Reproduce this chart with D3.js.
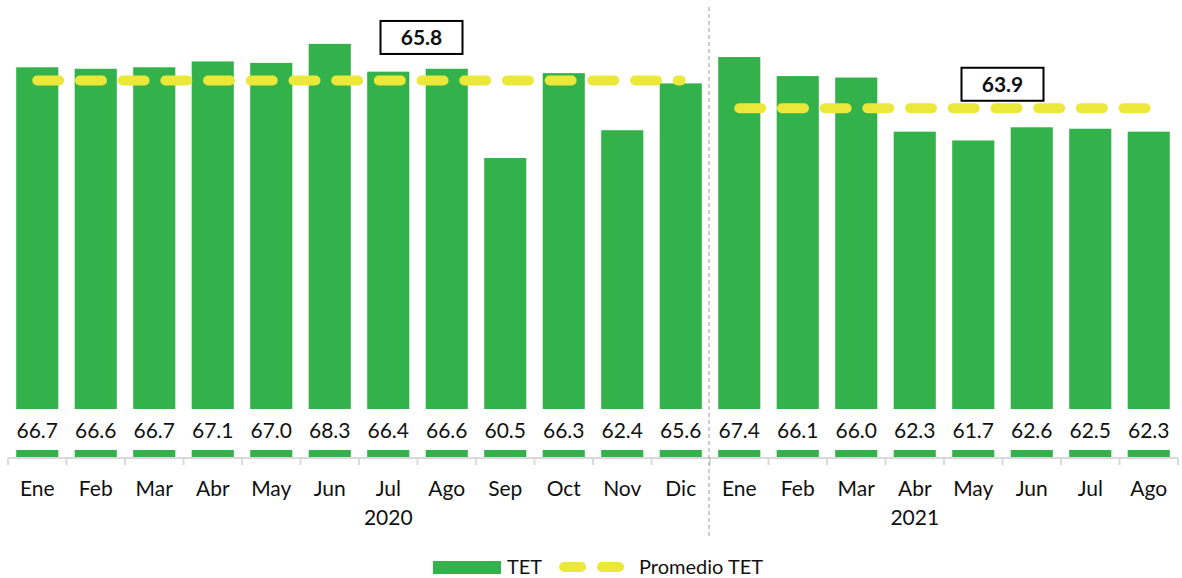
<!DOCTYPE html>
<html>
<head>
<meta charset="utf-8">
<script src="https://cdn.jsdelivr.net/npm/d3@7"></script>
<style>
  html, body { margin: 0; padding: 0; background: #fff; }
  svg { display: block; font-family: Lato, "Open Sans", sans-serif; }
</style>
</head>
<body>
<svg id="chart" width="1182" height="578"></svg>
<script>
// ---- data ----
const months = ["Ene","Feb","Mar","Abr","May","Jun","Jul","Ago","Sep","Oct","Nov","Dic",
                "Ene","Feb","Mar","Abr","May","Jun","Jul","Ago"];
const years = ["2020","2021"];
const yearOfMonth = [0,0,0,0,0,0,0,0,0,0,0,0,1,1,1,1,1,1,1,1];
const tet = [66.7,66.6,66.7,67.1,67.0,68.3,66.4,66.6,60.5,66.3,62.4,65.6,
             67.4,66.1,66.0,62.3,61.7,62.6,62.5,62.3];
const promedio = [65.8, 63.9];           // average per year
const yearLabelAt = [6, 15];             // category index under which year label sits
const boxAt = [6.5, 16.5];               // category position of average annotation box

// ---- layout ----
const W = 1182, H = 578;
const left = 8, right = 1178, axisY = 458, topY = 19;
const labelBandTop = 409, labelBandBottom = 450;
const green = "#33b24c", yellow = "#ebe83a";

const svg = d3.select("#chart");
const idx = d3.range(months.length);

const x = d3.scaleBand().domain(idx).range([left, right])
  .paddingInner(0.28).paddingOuter(0.14);
const y = d3.scaleLinear().domain([40, 70]).range([axisY, topY]);
const step = x.step();
const cx = i => x(i) + x.bandwidth() / 2;
const pos = p => left + (p + 0.5) * step; // fractional category position -> px

// bars
svg.append("g").selectAll("rect").data(idx).join("rect")
  .attr("x", i => x(i))
  .attr("y", i => y(tet[i]))
  .attr("width", x.bandwidth())
  .attr("height", i => y(40) - y(tet[i]) - 1)
  .attr("fill", green);

// white label bands (data labels inside base)
svg.append("g").selectAll("rect").data(idx).join("rect")
  .attr("x", i => x(i) - 2)
  .attr("y", labelBandTop)
  .attr("width", x.bandwidth() + 4)
  .attr("height", labelBandBottom - labelBandTop)
  .attr("fill", "#fff");

svg.append("g").selectAll("text").data(idx).join("text")
  .attr("x", cx)
  .attr("y", 438)
  .attr("text-anchor", "middle")
  .attr("font-size", 21)
  .attr("fill", "#111")
  .text(i => tet[i].toFixed(1));

// axis
const ax = svg.append("g");
ax.append("line").attr("x1", left).attr("x2", right)
  .attr("y1", axisY).attr("y2", axisY)
  .attr("stroke", "#d9d9d9").attr("stroke-width", 2);
ax.selectAll("line.tick").data(d3.range(months.length + 1)).join("line")
  .attr("class", "tick")
  .attr("x1", k => left + k * step).attr("x2", k => left + k * step)
  .attr("y1", axisY).attr("y2", axisY + 7)
  .attr("stroke", "#d9d9d9").attr("stroke-width", 2);
ax.selectAll("text.m").data(idx).join("text")
  .attr("class", "m")
  .attr("x", cx).attr("y", 496)
  .attr("text-anchor", "middle").attr("font-size", 21).attr("fill", "#111")
  .text(i => months[i]);
ax.selectAll("text.yr").data(years).join("text")
  .attr("class", "yr")
  .attr("x", (d, j) => cx(yearLabelAt[j])).attr("y", 525)
  .attr("text-anchor", "middle").attr("font-size", 21).attr("fill", "#111")
  .text(d => d);

// average lines
years.forEach((yr, j) => {
  const ids = idx.filter(i => yearOfMonth[i] === j);
  const line = d3.line().x(i => cx(i)).y(() => y(promedio[j]));
  svg.append("path")
    .attr("d", line([ids[0], ids[ids.length - 1]]))
    .attr("fill", "none")
    .attr("stroke", yellow)
    .attr("stroke-width", 10)
    .attr("stroke-linecap", "round")
    .attr("stroke-dasharray", "22,20.7");
});

// separator between years
svg.append("line")
  .attr("x1", left + 12 * step - 1).attr("x2", left + 12 * step - 1)
  .attr("y1", 7).attr("y2", 538)
  .attr("stroke", "#9a9a9a").attr("stroke-width", 1)
  .attr("stroke-dasharray", "4,3");

// annotation boxes
const boxOffset = [43, 24]; // px above the average line (box centre)
years.forEach((yr, j) => {
  const bx = pos(boxAt[j]) + (j === 0 ? 4 : 0);
  const by = y(promedio[j]) - boxOffset[j];
  const bw = 82, bh = 33;
  svg.append("rect")
    .attr("x", bx - bw / 2).attr("y", by - bh / 2)
    .attr("width", bw).attr("height", bh)
    .attr("fill", "#fff").attr("stroke", "#000").attr("stroke-width", 2);
  svg.append("text")
    .attr("x", bx).attr("y", by + 8)
    .attr("text-anchor", "middle").attr("font-size", 21)
    .attr("font-weight", "bold").attr("fill", "#111")
    .text(promedio[j].toFixed(1));
});

// legend
const lg = svg.append("g");
lg.append("rect").attr("x", 433).attr("y", 561).attr("width", 68).attr("height", 13).attr("fill", green);
lg.append("text").attr("x", 507).attr("y", 574).attr("font-size", 20).attr("fill", "#111").text("TET");
lg.append("line").attr("x1", 564).attr("x2", 619).attr("y1", 567).attr("y2", 567)
  .attr("stroke", yellow).attr("stroke-width", 10).attr("stroke-linecap", "round")
  .attr("stroke-dasharray", "17,21");
lg.append("text").attr("x", 639).attr("y", 574).attr("font-size", 20).attr("fill", "#111").text("Promedio TET");
</script>
</body>
</html>
